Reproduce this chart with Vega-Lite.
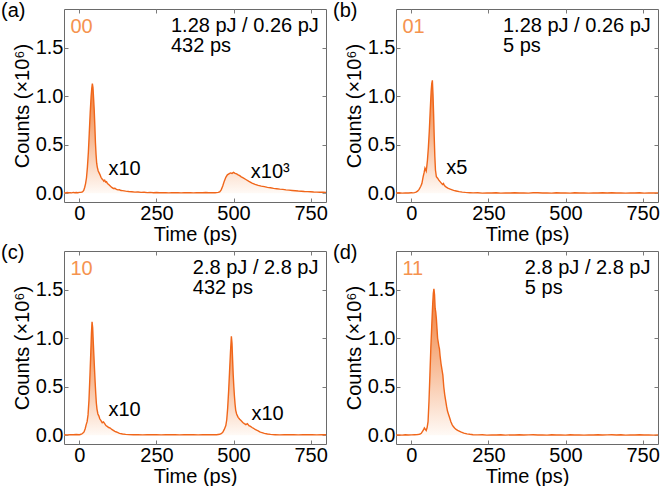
{
  "$schema": "https://vega.github.io/schema/vega-lite/v6.json",
  "background": "white",
  "padding": {"left": 0, "top": 0, "right": 6, "bottom": 6},
  "config": {
    "font": "Liberation Sans",
    "view": {"stroke": "#6a6a6a", "strokeWidth": 1},
    "axis": {
      "domain": false, "grid": false, "tickColor": "#7a7a7a", "tickSize": -4, "tickWidth": 1,
      "labelFont": "Liberation Sans", "labelFontSize": 20, "labelColor": "#000000",
      "titleFont": "Liberation Sans", "titleFontSize": 20, "titleFontWeight": "normal", "titleColor": "#000000"
    },
    "title": {"font": "Liberation Sans", "fontSize": 20, "fontWeight": "normal", "color": "#000000", "anchor": "start", "frame": "group", "dx": -63, "offset": -12, "baseline": "alphabetic"},
    "text": {"font": "Liberation Sans", "fontSize": 20, "color": "#000000"}
  },
  "datasets": {
    "a": [
      {"t": -50, "c": 0.006}, {"t": -45, "c": 0.004}, {"t": -40, "c": 0.008}, {"t": -35, "c": 0.005}, {"t": -30, "c": 0.007},
      {"t": -25, "c": 0.004}, {"t": -20, "c": 0.009}, {"t": -15, "c": 0.006}, {"t": -10, "c": 0.008}, {"t": -5, "c": 0.005},
      {"t": 0, "c": 0.009}, {"t": 5, "c": 0.011}, {"t": 10, "c": 0.014}, {"t": 14, "c": 0.03}, {"t": 17, "c": 0.06},
      {"t": 20, "c": 0.1}, {"t": 23, "c": 0.16}, {"t": 26, "c": 0.27}, {"t": 29, "c": 0.42}, {"t": 32, "c": 0.62},
      {"t": 35, "c": 0.83}, {"t": 38, "c": 1.0}, {"t": 40, "c": 1.08}, {"t": 42, "c": 1.13}, {"t": 44, "c": 1.09},
      {"t": 46, "c": 0.98}, {"t": 48, "c": 0.86}, {"t": 50, "c": 0.7}, {"t": 52, "c": 0.52}, {"t": 54, "c": 0.4},
      {"t": 56, "c": 0.31}, {"t": 58, "c": 0.27}, {"t": 61, "c": 0.23}, {"t": 64, "c": 0.21}, {"t": 67, "c": 0.19},
      {"t": 70, "c": 0.165}, {"t": 73, "c": 0.15}, {"t": 76, "c": 0.14}, {"t": 79, "c": 0.125}, {"t": 82, "c": 0.135},
      {"t": 85, "c": 0.115}, {"t": 88, "c": 0.12}, {"t": 91, "c": 0.1}, {"t": 95, "c": 0.09}, {"t": 100, "c": 0.075},
      {"t": 105, "c": 0.06}, {"t": 110, "c": 0.05}, {"t": 115, "c": 0.052}, {"t": 120, "c": 0.04}, {"t": 125, "c": 0.035},
      {"t": 130, "c": 0.036}, {"t": 135, "c": 0.028}, {"t": 140, "c": 0.027}, {"t": 150, "c": 0.022}, {"t": 160, "c": 0.018},
      {"t": 170, "c": 0.016}, {"t": 180, "c": 0.012}, {"t": 190, "c": 0.013}, {"t": 200, "c": 0.009}, {"t": 210, "c": 0.01},
      {"t": 220, "c": 0.007}, {"t": 230, "c": 0.009}, {"t": 240, "c": 0.006}, {"t": 250, "c": 0.008}, {"t": 260, "c": 0.005},
      {"t": 270, "c": 0.007}, {"t": 280, "c": 0.006}, {"t": 290, "c": 0.004}, {"t": 300, "c": 0.007}, {"t": 310, "c": 0.005},
      {"t": 320, "c": 0.006}, {"t": 330, "c": 0.004}, {"t": 340, "c": 0.007}, {"t": 350, "c": 0.005}, {"t": 360, "c": 0.006},
      {"t": 370, "c": 0.004}, {"t": 380, "c": 0.007}, {"t": 390, "c": 0.005}, {"t": 400, "c": 0.006}, {"t": 410, "c": 0.008},
      {"t": 420, "c": 0.005}, {"t": 430, "c": 0.007}, {"t": 440, "c": 0.006}, {"t": 450, "c": 0.009}, {"t": 455, "c": 0.014},
      {"t": 460, "c": 0.035}, {"t": 465, "c": 0.075}, {"t": 470, "c": 0.125}, {"t": 475, "c": 0.165}, {"t": 480, "c": 0.19},
      {"t": 485, "c": 0.2}, {"t": 490, "c": 0.21}, {"t": 495, "c": 0.205}, {"t": 500, "c": 0.215}, {"t": 505, "c": 0.205},
      {"t": 510, "c": 0.2}, {"t": 515, "c": 0.19}, {"t": 520, "c": 0.182}, {"t": 525, "c": 0.17}, {"t": 530, "c": 0.162},
      {"t": 540, "c": 0.142}, {"t": 550, "c": 0.122}, {"t": 560, "c": 0.105}, {"t": 570, "c": 0.092}, {"t": 580, "c": 0.082},
      {"t": 590, "c": 0.074}, {"t": 600, "c": 0.068}, {"t": 610, "c": 0.061}, {"t": 620, "c": 0.057}, {"t": 630, "c": 0.051},
      {"t": 640, "c": 0.047}, {"t": 650, "c": 0.043}, {"t": 660, "c": 0.04}, {"t": 670, "c": 0.035}, {"t": 680, "c": 0.032},
      {"t": 690, "c": 0.029}, {"t": 700, "c": 0.026}, {"t": 710, "c": 0.023}, {"t": 720, "c": 0.021}, {"t": 730, "c": 0.018},
      {"t": 740, "c": 0.017}, {"t": 750, "c": 0.015}, {"t": 760, "c": 0.013}, {"t": 770, "c": 0.012}, {"t": 780, "c": 0.011},
      {"t": 790, "c": 0.01}, {"t": 800, "c": 0.009}
    ],
    "b": [
      {"t": -50, "c": 0.003}, {"t": -40, "c": 0.005}, {"t": -30, "c": 0.002}, {"t": -20, "c": 0.004}, {"t": -10, "c": 0.003},
      {"t": 0, "c": 0.005}, {"t": 5, "c": 0.004}, {"t": 10, "c": 0.007}, {"t": 15, "c": 0.012}, {"t": 20, "c": 0.022},
      {"t": 25, "c": 0.04}, {"t": 30, "c": 0.07}, {"t": 34, "c": 0.1}, {"t": 38, "c": 0.17}, {"t": 41, "c": 0.21},
      {"t": 44, "c": 0.26}, {"t": 46, "c": 0.245}, {"t": 48, "c": 0.23}, {"t": 50, "c": 0.28}, {"t": 52, "c": 0.34},
      {"t": 55, "c": 0.47}, {"t": 58, "c": 0.64}, {"t": 61, "c": 0.85}, {"t": 64, "c": 1.05}, {"t": 66, "c": 1.13},
      {"t": 68, "c": 1.165}, {"t": 70, "c": 1.02}, {"t": 72, "c": 0.82}, {"t": 74, "c": 0.58}, {"t": 76, "c": 0.38},
      {"t": 78, "c": 0.24}, {"t": 81, "c": 0.17}, {"t": 85, "c": 0.155}, {"t": 89, "c": 0.135}, {"t": 93, "c": 0.12},
      {"t": 97, "c": 0.105}, {"t": 101, "c": 0.09}, {"t": 104, "c": 0.1}, {"t": 107, "c": 0.08}, {"t": 112, "c": 0.066},
      {"t": 118, "c": 0.054}, {"t": 124, "c": 0.045}, {"t": 130, "c": 0.038}, {"t": 137, "c": 0.03}, {"t": 145, "c": 0.024},
      {"t": 155, "c": 0.017}, {"t": 165, "c": 0.012}, {"t": 175, "c": 0.009}, {"t": 190, "c": 0.006}, {"t": 200, "c": 0.004},
      {"t": 215, "c": 0.005}, {"t": 230, "c": 0.002}, {"t": 245, "c": 0.004}, {"t": 260, "c": 0.003}, {"t": 275, "c": 0.005},
      {"t": 290, "c": 0.002}, {"t": 305, "c": 0.004}, {"t": 320, "c": 0.003}, {"t": 335, "c": 0.005}, {"t": 350, "c": 0.003},
      {"t": 365, "c": 0.004}, {"t": 380, "c": 0.002}, {"t": 395, "c": 0.005}, {"t": 410, "c": 0.006}, {"t": 425, "c": 0.003},
      {"t": 440, "c": 0.004}, {"t": 455, "c": 0.002}, {"t": 470, "c": 0.005}, {"t": 485, "c": 0.003}, {"t": 500, "c": 0.004},
      {"t": 515, "c": 0.002}, {"t": 530, "c": 0.005}, {"t": 545, "c": 0.003}, {"t": 560, "c": 0.004}, {"t": 575, "c": 0.002},
      {"t": 590, "c": 0.004}, {"t": 605, "c": 0.003}, {"t": 620, "c": 0.005}, {"t": 635, "c": 0.003}, {"t": 650, "c": 0.006},
      {"t": 665, "c": 0.003}, {"t": 680, "c": 0.004}, {"t": 695, "c": 0.002}, {"t": 710, "c": 0.004}, {"t": 725, "c": 0.003},
      {"t": 740, "c": 0.005}, {"t": 755, "c": 0.002}, {"t": 770, "c": 0.004}, {"t": 785, "c": 0.003}, {"t": 800, "c": 0.004}
    ],
    "c": [
      {"t": -50, "c": 0.006}, {"t": -40, "c": 0.004}, {"t": -30, "c": 0.007}, {"t": -20, "c": 0.005}, {"t": -10, "c": 0.008},
      {"t": 0, "c": 0.006}, {"t": 5, "c": 0.01}, {"t": 10, "c": 0.018}, {"t": 15, "c": 0.035}, {"t": 19, "c": 0.07},
      {"t": 22, "c": 0.11}, {"t": 25, "c": 0.14}, {"t": 28, "c": 0.21}, {"t": 31, "c": 0.36}, {"t": 34, "c": 0.6},
      {"t": 37, "c": 0.86}, {"t": 39, "c": 1.05}, {"t": 41, "c": 1.17}, {"t": 43, "c": 1.11}, {"t": 45, "c": 0.96},
      {"t": 47, "c": 0.82}, {"t": 49, "c": 0.68}, {"t": 51, "c": 0.55}, {"t": 53, "c": 0.43}, {"t": 55, "c": 0.33},
      {"t": 57, "c": 0.27}, {"t": 60, "c": 0.22}, {"t": 63, "c": 0.2}, {"t": 66, "c": 0.17}, {"t": 70, "c": 0.15},
      {"t": 74, "c": 0.13}, {"t": 78, "c": 0.138}, {"t": 82, "c": 0.12}, {"t": 86, "c": 0.1}, {"t": 90, "c": 0.092},
      {"t": 95, "c": 0.08}, {"t": 100, "c": 0.074}, {"t": 105, "c": 0.06}, {"t": 110, "c": 0.05}, {"t": 115, "c": 0.04},
      {"t": 120, "c": 0.034}, {"t": 125, "c": 0.027}, {"t": 130, "c": 0.02}, {"t": 140, "c": 0.013}, {"t": 150, "c": 0.009},
      {"t": 160, "c": 0.007}, {"t": 175, "c": 0.005}, {"t": 190, "c": 0.007}, {"t": 205, "c": 0.004}, {"t": 220, "c": 0.006},
      {"t": 235, "c": 0.005}, {"t": 250, "c": 0.007}, {"t": 265, "c": 0.004}, {"t": 280, "c": 0.006}, {"t": 295, "c": 0.005},
      {"t": 310, "c": 0.007}, {"t": 325, "c": 0.004}, {"t": 340, "c": 0.006}, {"t": 355, "c": 0.005}, {"t": 370, "c": 0.007},
      {"t": 385, "c": 0.004}, {"t": 400, "c": 0.006}, {"t": 415, "c": 0.005}, {"t": 430, "c": 0.007}, {"t": 445, "c": 0.006},
      {"t": 455, "c": 0.01}, {"t": 460, "c": 0.016}, {"t": 465, "c": 0.03}, {"t": 470, "c": 0.06}, {"t": 475, "c": 0.1},
      {"t": 478, "c": 0.16}, {"t": 481, "c": 0.28}, {"t": 484, "c": 0.45}, {"t": 487, "c": 0.65}, {"t": 490, "c": 0.85},
      {"t": 493, "c": 1.02}, {"t": 495, "c": 0.95}, {"t": 497, "c": 0.78}, {"t": 499, "c": 0.62}, {"t": 501, "c": 0.5},
      {"t": 503, "c": 0.4}, {"t": 505, "c": 0.32}, {"t": 507, "c": 0.26}, {"t": 510, "c": 0.22}, {"t": 515, "c": 0.185},
      {"t": 520, "c": 0.165}, {"t": 525, "c": 0.15}, {"t": 530, "c": 0.132}, {"t": 535, "c": 0.12}, {"t": 540, "c": 0.11},
      {"t": 545, "c": 0.12}, {"t": 550, "c": 0.1}, {"t": 555, "c": 0.092}, {"t": 560, "c": 0.08}, {"t": 565, "c": 0.072},
      {"t": 570, "c": 0.06}, {"t": 575, "c": 0.052}, {"t": 580, "c": 0.045}, {"t": 585, "c": 0.036}, {"t": 590, "c": 0.03},
      {"t": 600, "c": 0.02}, {"t": 610, "c": 0.013}, {"t": 620, "c": 0.009}, {"t": 635, "c": 0.006}, {"t": 650, "c": 0.004},
      {"t": 665, "c": 0.007}, {"t": 680, "c": 0.005}, {"t": 695, "c": 0.006}, {"t": 710, "c": 0.004}, {"t": 725, "c": 0.007},
      {"t": 740, "c": 0.005}, {"t": 755, "c": 0.006}, {"t": 770, "c": 0.004}, {"t": 785, "c": 0.006}, {"t": 800, "c": 0.005}
    ],
    "d": [
      {"t": -50, "c": 0.003}, {"t": -40, "c": 0.004}, {"t": -30, "c": 0.002}, {"t": -20, "c": 0.005}, {"t": -10, "c": 0.003},
      {"t": 0, "c": 0.004}, {"t": 10, "c": 0.006}, {"t": 20, "c": 0.008}, {"t": 25, "c": 0.01}, {"t": 28, "c": 0.012},
      {"t": 32, "c": 0.02}, {"t": 36, "c": 0.04}, {"t": 40, "c": 0.06}, {"t": 42, "c": 0.075}, {"t": 45, "c": 0.062},
      {"t": 48, "c": 0.05}, {"t": 51, "c": 0.08}, {"t": 54, "c": 0.14}, {"t": 57, "c": 0.35}, {"t": 60, "c": 0.62},
      {"t": 63, "c": 0.9}, {"t": 66, "c": 1.13}, {"t": 69, "c": 1.35}, {"t": 71, "c": 1.46}, {"t": 73, "c": 1.51},
      {"t": 75, "c": 1.45}, {"t": 77, "c": 1.31}, {"t": 79, "c": 1.27}, {"t": 81, "c": 1.2}, {"t": 83, "c": 1.1},
      {"t": 85, "c": 1.0}, {"t": 87, "c": 0.96}, {"t": 89, "c": 0.92}, {"t": 91, "c": 0.89}, {"t": 93, "c": 0.82},
      {"t": 96, "c": 0.74}, {"t": 99, "c": 0.68}, {"t": 102, "c": 0.62}, {"t": 105, "c": 0.5}, {"t": 108, "c": 0.42},
      {"t": 111, "c": 0.36}, {"t": 114, "c": 0.3}, {"t": 117, "c": 0.25}, {"t": 120, "c": 0.22}, {"t": 124, "c": 0.18},
      {"t": 128, "c": 0.14}, {"t": 132, "c": 0.11}, {"t": 136, "c": 0.09}, {"t": 140, "c": 0.075}, {"t": 145, "c": 0.06},
      {"t": 150, "c": 0.05}, {"t": 160, "c": 0.035}, {"t": 170, "c": 0.022}, {"t": 180, "c": 0.015}, {"t": 190, "c": 0.01},
      {"t": 200, "c": 0.006}, {"t": 215, "c": 0.004}, {"t": 230, "c": 0.005}, {"t": 245, "c": 0.002}, {"t": 260, "c": 0.004},
      {"t": 275, "c": 0.003}, {"t": 290, "c": 0.005}, {"t": 305, "c": 0.002}, {"t": 320, "c": 0.004}, {"t": 335, "c": 0.003},
      {"t": 350, "c": 0.005}, {"t": 365, "c": 0.003}, {"t": 380, "c": 0.004}, {"t": 395, "c": 0.006}, {"t": 410, "c": 0.003},
      {"t": 425, "c": 0.004}, {"t": 440, "c": 0.002}, {"t": 455, "c": 0.005}, {"t": 470, "c": 0.003}, {"t": 485, "c": 0.004},
      {"t": 500, "c": 0.002}, {"t": 515, "c": 0.005}, {"t": 530, "c": 0.003}, {"t": 545, "c": 0.004}, {"t": 560, "c": 0.002},
      {"t": 575, "c": 0.004}, {"t": 590, "c": 0.003}, {"t": 605, "c": 0.005}, {"t": 620, "c": 0.003}, {"t": 635, "c": 0.004},
      {"t": 650, "c": 0.006}, {"t": 665, "c": 0.003}, {"t": 680, "c": 0.005}, {"t": 695, "c": 0.002}, {"t": 710, "c": 0.004},
      {"t": 725, "c": 0.003}, {"t": 740, "c": 0.005}, {"t": 755, "c": 0.003}, {"t": 770, "c": 0.004}, {"t": 785, "c": 0.002},
      {"t": 800, "c": 0.004}
    ]
  },
  "bounds": "flush",
  "columns": 2,
  "spacing": {"row": 49, "column": 70},
  "concat": [
    {
      "title": "(a)",
      "width": 262, "height": 193,
      "data": {"name": "a"},
      "resolve": {"axis": {"x": "independent", "y": "independent"}},
      "layer": [
        {"mark": {"type": "area", "clip": true, "color": {"gradient": "linear", "x1": 0, "y1": 0, "x2": 0, "y2": 1, "stops": [{"offset": 0, "color": "#ef7a32"}, {"offset": 0.55, "color": "#f8bf9c"}, {"offset": 1, "color": "#fffaf6"}]}},
         "encoding": {
           "x": {"field": "t", "type": "quantitative", "scale": {"domain": [-50, 800]}, "axis": {"orient": "bottom", "values": [0, 250, 500, 750], "title": "Time (ps)", "labelPadding": 5, "titlePadding": 1}},
           "y": {"field": "c", "type": "quantitative", "scale": {"domain": [-0.09, 1.9]}, "axis": {"orient": "left", "values": [0, 0.5, 1, 1.5], "format": ".1f", "title": "Counts (×10⁶)", "labelPadding": 5, "titlePadding": 3}}}},
        {"mark": {"type": "line", "clip": true, "color": "#f0661a", "strokeWidth": 1.4},
         "encoding": {
           "x": {"field": "t", "type": "quantitative", "scale": {"domain": [-50, 800]}, "axis": {"orient": "top", "values": [0, 250, 500, 750], "labels": false, "title": null}},
           "y": {"field": "c", "type": "quantitative", "scale": {"domain": [-0.09, 1.9]}, "axis": {"orient": "right", "values": [0, 0.5, 1, 1.5], "labels": false, "title": null}}}},
        {"data": {"values": [{}]}, "mark": {"type": "text", "text": "00", "align": "left", "baseline": "alphabetic", "color": "#f5934f"},
         "encoding": {"x": {"datum": -29, "type": "quantitative", "scale": {"domain": [-50, 800]}, "axis": null}, "y": {"datum": 1.656, "type": "quantitative", "scale": {"domain": [-0.09, 1.9]}, "axis": null}}},
        {"data": {"values": [{}]}, "mark": {"type": "text", "text": "1.28 pJ / 0.26 pJ\n432 ps", "lineBreak": "\n", "lineHeight": 20, "align": "left", "baseline": "alphabetic"},
         "encoding": {"x": {"datum": 297, "type": "quantitative", "scale": {"domain": [-50, 800]}, "axis": null}, "y": {"datum": 1.665, "type": "quantitative", "scale": {"domain": [-0.09, 1.9]}, "axis": null}}},
        {"data": {"values": [{}]}, "mark": {"type": "text", "text": "x10", "align": "left", "baseline": "alphabetic"},
         "encoding": {"x": {"datum": 94, "type": "quantitative", "scale": {"domain": [-50, 800]}, "axis": null}, "y": {"datum": 0.19, "type": "quantitative", "scale": {"domain": [-0.09, 1.9]}, "axis": null}}},
        {"data": {"values": [{}]}, "mark": {"type": "text", "text": "x10³", "align": "left", "baseline": "alphabetic"},
         "encoding": {"x": {"datum": 556, "type": "quantitative", "scale": {"domain": [-50, 800]}, "axis": null}, "y": {"datum": 0.153, "type": "quantitative", "scale": {"domain": [-0.09, 1.9]}, "axis": null}}}
      ]
    },
    {
      "title": "(b)",
      "width": 262, "height": 193,
      "data": {"name": "b"},
      "resolve": {"axis": {"x": "independent", "y": "independent"}},
      "layer": [
        {"mark": {"type": "area", "clip": true, "color": {"gradient": "linear", "x1": 0, "y1": 0, "x2": 0, "y2": 1, "stops": [{"offset": 0, "color": "#ef7a32"}, {"offset": 0.55, "color": "#f8bf9c"}, {"offset": 1, "color": "#fffaf6"}]}},
         "encoding": {
           "x": {"field": "t", "type": "quantitative", "scale": {"domain": [-50, 800]}, "axis": {"orient": "bottom", "values": [0, 250, 500, 750], "title": "Time (ps)", "labelPadding": 5, "titlePadding": 1}},
           "y": {"field": "c", "type": "quantitative", "scale": {"domain": [-0.09, 1.9]}, "axis": {"orient": "left", "values": [0, 0.5, 1, 1.5], "format": ".1f", "title": "Counts (×10⁶)", "labelPadding": 5, "titlePadding": 3}}}},
        {"mark": {"type": "line", "clip": true, "color": "#f0661a", "strokeWidth": 1.4},
         "encoding": {
           "x": {"field": "t", "type": "quantitative", "scale": {"domain": [-50, 800]}, "axis": {"orient": "top", "values": [0, 250, 500, 750], "labels": false, "title": null}},
           "y": {"field": "c", "type": "quantitative", "scale": {"domain": [-0.09, 1.9]}, "axis": {"orient": "right", "values": [0, 0.5, 1, 1.5], "labels": false, "title": null}}}},
        {"data": {"values": [{}]}, "mark": {"type": "text", "text": "01", "align": "left", "baseline": "alphabetic", "color": "#f5934f"},
         "encoding": {"x": {"datum": -29, "type": "quantitative", "scale": {"domain": [-50, 800]}, "axis": null}, "y": {"datum": 1.656, "type": "quantitative", "scale": {"domain": [-0.09, 1.9]}, "axis": null}}},
        {"data": {"values": [{}]}, "mark": {"type": "text", "text": "1.28 pJ / 0.26 pJ\n5 ps", "lineBreak": "\n", "lineHeight": 20, "align": "left", "baseline": "alphabetic"},
         "encoding": {"x": {"datum": 297, "type": "quantitative", "scale": {"domain": [-50, 800]}, "axis": null}, "y": {"datum": 1.665, "type": "quantitative", "scale": {"domain": [-0.09, 1.9]}, "axis": null}}},
        {"data": {"values": [{}]}, "mark": {"type": "text", "text": "x5", "align": "left", "baseline": "alphabetic"},
         "encoding": {"x": {"datum": 113, "type": "quantitative", "scale": {"domain": [-50, 800]}, "axis": null}, "y": {"datum": 0.2, "type": "quantitative", "scale": {"domain": [-0.09, 1.9]}, "axis": null}}}
      ]
    },
    {
      "title": "(c)",
      "width": 262, "height": 193,
      "data": {"name": "c"},
      "resolve": {"axis": {"x": "independent", "y": "independent"}},
      "layer": [
        {"mark": {"type": "area", "clip": true, "color": {"gradient": "linear", "x1": 0, "y1": 0, "x2": 0, "y2": 1, "stops": [{"offset": 0, "color": "#ef7a32"}, {"offset": 0.55, "color": "#f8bf9c"}, {"offset": 1, "color": "#fffaf6"}]}},
         "encoding": {
           "x": {"field": "t", "type": "quantitative", "scale": {"domain": [-50, 800]}, "axis": {"orient": "bottom", "values": [0, 250, 500, 750], "title": "Time (ps)", "labelPadding": 5, "titlePadding": 1}},
           "y": {"field": "c", "type": "quantitative", "scale": {"domain": [-0.09, 1.9]}, "axis": {"orient": "left", "values": [0, 0.5, 1, 1.5], "format": ".1f", "title": "Counts (×10⁶)", "labelPadding": 5, "titlePadding": 3}}}},
        {"mark": {"type": "line", "clip": true, "color": "#f0661a", "strokeWidth": 1.4},
         "encoding": {
           "x": {"field": "t", "type": "quantitative", "scale": {"domain": [-50, 800]}, "axis": {"orient": "top", "values": [0, 250, 500, 750], "labels": false, "title": null}},
           "y": {"field": "c", "type": "quantitative", "scale": {"domain": [-0.09, 1.9]}, "axis": {"orient": "right", "values": [0, 0.5, 1, 1.5], "labels": false, "title": null}}}},
        {"data": {"values": [{}]}, "mark": {"type": "text", "text": "10", "align": "left", "baseline": "alphabetic", "color": "#f5934f"},
         "encoding": {"x": {"datum": -29, "type": "quantitative", "scale": {"domain": [-50, 800]}, "axis": null}, "y": {"datum": 1.656, "type": "quantitative", "scale": {"domain": [-0.09, 1.9]}, "axis": null}}},
        {"data": {"values": [{}]}, "mark": {"type": "text", "text": "2.8 pJ / 2.8 pJ\n432 ps", "lineBreak": "\n", "lineHeight": 20, "align": "left", "baseline": "alphabetic"},
         "encoding": {"x": {"datum": 368, "type": "quantitative", "scale": {"domain": [-50, 800]}, "axis": null}, "y": {"datum": 1.665, "type": "quantitative", "scale": {"domain": [-0.09, 1.9]}, "axis": null}}},
        {"data": {"values": [{}]}, "mark": {"type": "text", "text": "x10", "align": "left", "baseline": "alphabetic"},
         "encoding": {"x": {"datum": 94, "type": "quantitative", "scale": {"domain": [-50, 800]}, "axis": null}, "y": {"datum": 0.196, "type": "quantitative", "scale": {"domain": [-0.09, 1.9]}, "axis": null}}},
        {"data": {"values": [{}]}, "mark": {"type": "text", "text": "x10", "align": "left", "baseline": "alphabetic"},
         "encoding": {"x": {"datum": 558, "type": "quantitative", "scale": {"domain": [-50, 800]}, "axis": null}, "y": {"datum": 0.162, "type": "quantitative", "scale": {"domain": [-0.09, 1.9]}, "axis": null}}}
      ]
    },
    {
      "title": "(d)",
      "width": 262, "height": 193,
      "data": {"name": "d"},
      "resolve": {"axis": {"x": "independent", "y": "independent"}},
      "layer": [
        {"mark": {"type": "area", "clip": true, "color": {"gradient": "linear", "x1": 0, "y1": 0, "x2": 0, "y2": 1, "stops": [{"offset": 0, "color": "#ef7a32"}, {"offset": 0.55, "color": "#f8bf9c"}, {"offset": 1, "color": "#fffaf6"}]}},
         "encoding": {
           "x": {"field": "t", "type": "quantitative", "scale": {"domain": [-50, 800]}, "axis": {"orient": "bottom", "values": [0, 250, 500, 750], "title": "Time (ps)", "labelPadding": 5, "titlePadding": 1}},
           "y": {"field": "c", "type": "quantitative", "scale": {"domain": [-0.09, 1.9]}, "axis": {"orient": "left", "values": [0, 0.5, 1, 1.5], "format": ".1f", "title": "Counts (×10⁶)", "labelPadding": 5, "titlePadding": 3}}}},
        {"mark": {"type": "line", "clip": true, "color": "#f0661a", "strokeWidth": 1.4},
         "encoding": {
           "x": {"field": "t", "type": "quantitative", "scale": {"domain": [-50, 800]}, "axis": {"orient": "top", "values": [0, 250, 500, 750], "labels": false, "title": null}},
           "y": {"field": "c", "type": "quantitative", "scale": {"domain": [-0.09, 1.9]}, "axis": {"orient": "right", "values": [0, 0.5, 1, 1.5], "labels": false, "title": null}}}},
        {"data": {"values": [{}]}, "mark": {"type": "text", "text": "11", "align": "left", "baseline": "alphabetic", "color": "#f5934f"},
         "encoding": {"x": {"datum": -29, "type": "quantitative", "scale": {"domain": [-50, 800]}, "axis": null}, "y": {"datum": 1.656, "type": "quantitative", "scale": {"domain": [-0.09, 1.9]}, "axis": null}}},
        {"data": {"values": [{}]}, "mark": {"type": "text", "text": "2.8 pJ / 2.8 pJ\n5 ps", "lineBreak": "\n", "lineHeight": 20, "align": "left", "baseline": "alphabetic"},
         "encoding": {"x": {"datum": 368, "type": "quantitative", "scale": {"domain": [-50, 800]}, "axis": null}, "y": {"datum": 1.665, "type": "quantitative", "scale": {"domain": [-0.09, 1.9]}, "axis": null}}}
      ]
    }
  ]
}
